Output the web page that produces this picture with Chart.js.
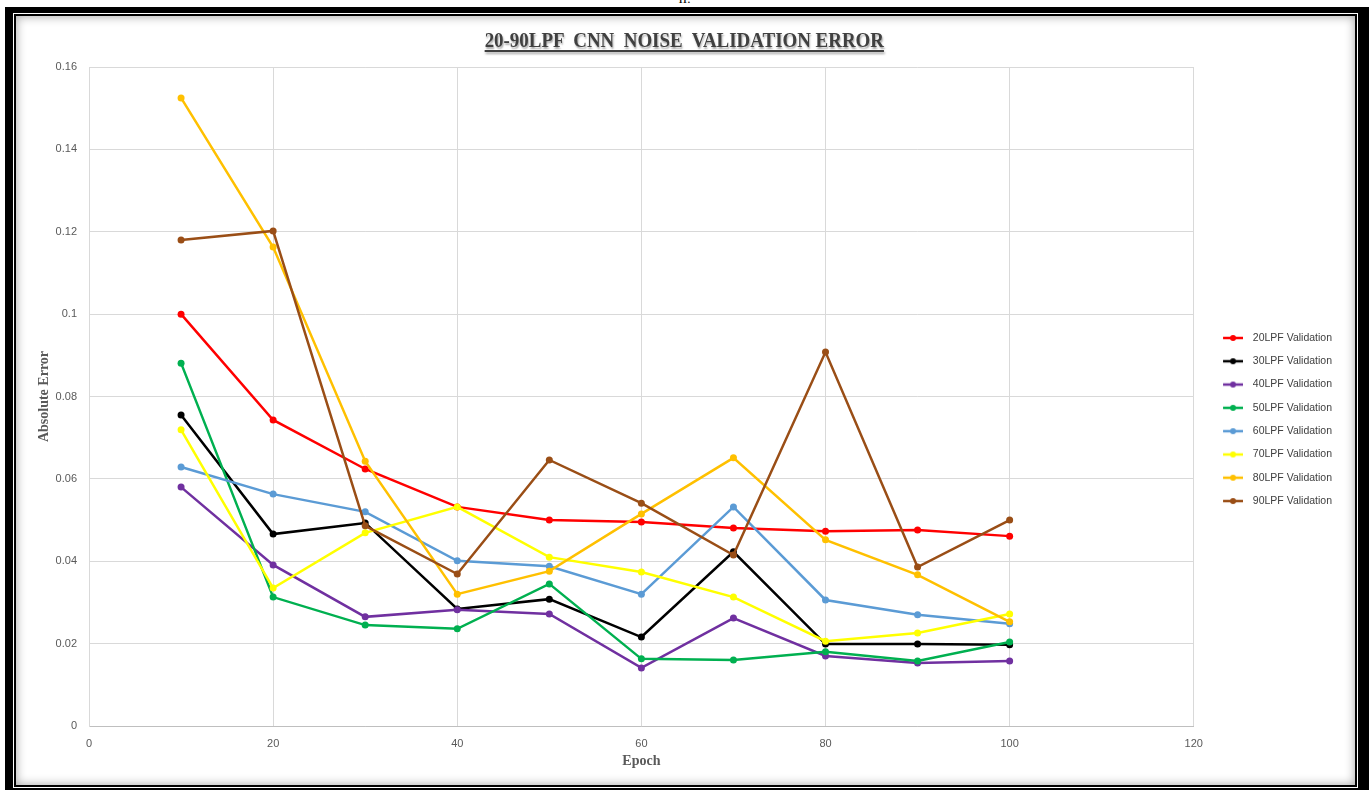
<!DOCTYPE html>
<html>
<head>
<meta charset="utf-8">
<title>20-90LPF CNN Noise Validation Error</title>
<script src="https://cdn.jsdelivr.net/npm/chart.js@4.4.1/dist/chart.umd.min.js"></script>
<style>
  html, body { margin: 0; padding: 0; background: #fff; }
  body { width: 1369px; height: 790px; position: relative; overflow: hidden; }
  #caption { position: absolute; left: 0; top: -9px; width: 1369px; text-align: center;
             font: 13px "Liberation Serif", serif; color: #000; }
  #frame { position: absolute; left: 5px; top: 7px; width: 1364px; height: 783px; background: #000; }
  #frame .ring { position: absolute; left: 8px; top: 6px; right: 11px; bottom: 2px; background: #fff; }
  #frame .line { position: absolute; left: 1px; top: 1px; right: 1px; bottom: 1px; background: #000; }
  #frame .panel { position: absolute; left: 2px; top: 2px; right: 2px; bottom: 2px; background: #fff;
                  box-shadow: inset 0 0 10px 1px rgba(0,0,0,0.32); }
  #title { position: absolute; left: 0; top: 29px; width: 1369px; text-align: center;
           font: bold 22px/22px "Liberation Serif", serif; color: #404040; white-space: pre;
           transform: scaleX(0.86); transform-origin: 683px 0;
           text-decoration: underline; text-decoration-thickness: 2px; text-underline-offset: 3px;
           text-shadow: 1px 2px 2px rgba(0,0,0,0.35); }
  #chart { position: absolute; left: 0; top: 0; }
</style>
</head>
<body>
<div id="caption">II.</div>
<div id="frame"><div class="ring"><div class="line"><div class="panel"></div></div></div></div>
<div id="title">20-90LPF  CNN  NOISE  VALIDATION ERROR</div>
<canvas id="chart" width="1369" height="790"></canvas>
<script>
// epochs on the x axis
var epochs = [10, 20, 30, 40, 50, 60, 70, 80, 90, 100];

// validation absolute error per low-pass filter setting
var lpf20 = [0.1000, 0.0743, 0.0624, 0.0532, 0.0500, 0.0495, 0.0481, 0.0473, 0.0476, 0.0461];
var lpf30 = [0.0755, 0.0466, 0.0493, 0.0284, 0.0308, 0.0216, 0.0423, 0.0199, 0.0199, 0.0197];
var lpf40 = [0.0580, 0.0391, 0.0265, 0.0282, 0.0272, 0.0141, 0.0262, 0.0170, 0.0153, 0.0158];
var lpf50 = [0.0881, 0.0313, 0.0245, 0.0236, 0.0345, 0.0163, 0.0160, 0.0180, 0.0158, 0.0204];
var lpf60 = [0.0629, 0.0563, 0.0520, 0.0401, 0.0388, 0.0320, 0.0532, 0.0306, 0.0270, 0.0248];
var lpf70 = [0.0719, 0.0335, 0.0469, 0.0532, 0.0410, 0.0374, 0.0313, 0.0206, 0.0226, 0.0272];
var lpf80 = [0.1525, 0.1163, 0.0643, 0.0320, 0.0376, 0.0515, 0.0651, 0.0452, 0.0367, 0.0253];
var lpf90 = [0.1180, 0.1202, 0.0486, 0.0369, 0.0646, 0.0541, 0.0415, 0.0908, 0.0386, 0.0500];

var seriesNames = ['20LPF Validation', '30LPF Validation', '40LPF Validation', '50LPF Validation',
                   '60LPF Validation', '70LPF Validation', '80LPF Validation', '90LPF Validation'];
var seriesValues = [lpf20, lpf30, lpf40, lpf50, lpf60, lpf70, lpf80, lpf90];
var seriesColors = ['#ff0000', '#000000', '#7030a0', '#00b050', '#5b9bd5', '#ffff00', '#ffc000', '#9a4e16'];

var yMax = 0.16, yStep = 0.02;
var xMax = 120, xStep = 20;

// small line-with-dot marker for the legend
var legendMarker = function(color) {
    var c = document.createElement('canvas');
    c.width = 32;
    c.height = 8;
    var ctx = c.getContext('2d');
    ctx.strokeStyle = color;
    ctx.lineWidth = 2.5;
    ctx.beginPath();
    ctx.moveTo(12, 4);
    ctx.lineTo(32, 4);
    ctx.stroke();
    ctx.fillStyle = color;
    ctx.beginPath();
    ctx.arc(22, 4, 3, 0, Math.PI * 2);
    ctx.fill();
    return c;
};

var datasets = [];
for (var i = 0; i < seriesNames.length; i++) {
    var pts = [];
    for (var j = 0; j < epochs.length; j++) {
        pts.push({ x: epochs[j], y: seriesValues[i][j] });
    }
    datasets.push({
        label: seriesNames[i],
        data: pts,
        borderColor: seriesColors[i],
        backgroundColor: seriesColors[i],
        pointBackgroundColor: seriesColors[i],
        pointBorderColor: seriesColors[i],
        borderWidth: 2.5,
        pointRadius: 3.5,
        pointBorderWidth: 0,
        tension: 0,
        order: seriesNames.length - i  // later series sit on top
    });
}

var tickFont = { family: '"Liberation Sans", sans-serif', size: 11 };
var axisTitleFont = { family: '"Liberation Serif", serif', size: 14, weight: 'bold' };

new Chart(document.getElementById('chart'), {
    type: 'line',
    data: { datasets: datasets },
    options: {
        responsive: false,
        animation: false,
        layout: { padding: { left: 30, top: 67, right: 27, bottom: 18 } },
        plugins: {
            tooltip: { enabled: false },
            legend: {
                position: 'right',
                labels: {
                    usePointStyle: true,
                    pointStyleWidth: 41,
                    padding: 12.8,
                    color: '#404040',
                    font: { family: '"Liberation Sans", sans-serif', size: 10.5 },
                    generateLabels: function(chart) {
                        return chart.data.datasets.map(function(ds, idx) {
                            return {
                                text: ds.label,
                                datasetIndex: idx,
                                pointStyle: legendMarker(ds.borderColor),
                                fillStyle: ds.borderColor,
                                strokeStyle: ds.borderColor,
                                lineWidth: 0,
                                fontColor: '#404040'
                            };
                        });
                    }
                }
            }
        },
        scales: {
            x: {
                type: 'linear',
                min: 0,
                max: xMax,
                afterFit: function(scale) { scale.height = 46; },
                ticks: { stepSize: xStep, color: '#595959', font: tickFont, padding: 11, maxRotation: 0 },
                grid: { color: '#d9d9d9', drawTicks: false },
                border: { color: '#bfbfbf' },
                title: { display: true, text: 'Epoch', color: '#595959', font: axisTitleFont,
                         padding: { top: 0, bottom: 2 } }
            },
            y: {
                min: 0,
                max: yMax,
                afterFit: function(scale) { scale.width = 59; },
                ticks: {
                    stepSize: yStep,
                    color: '#595959',
                    font: tickFont,
                    padding: 12,
                    callback: function(v) { return String(+v.toFixed(2)); }
                },
                grid: { color: '#d9d9d9', drawTicks: false },
                border: { color: '#d9d9d9' },
                title: { display: true, text: 'Absolute Error', color: '#595959', font: axisTitleFont,
                         padding: { top: 6, bottom: 0 } }
            }
        }
    }
});
</script>
</body>
</html>
